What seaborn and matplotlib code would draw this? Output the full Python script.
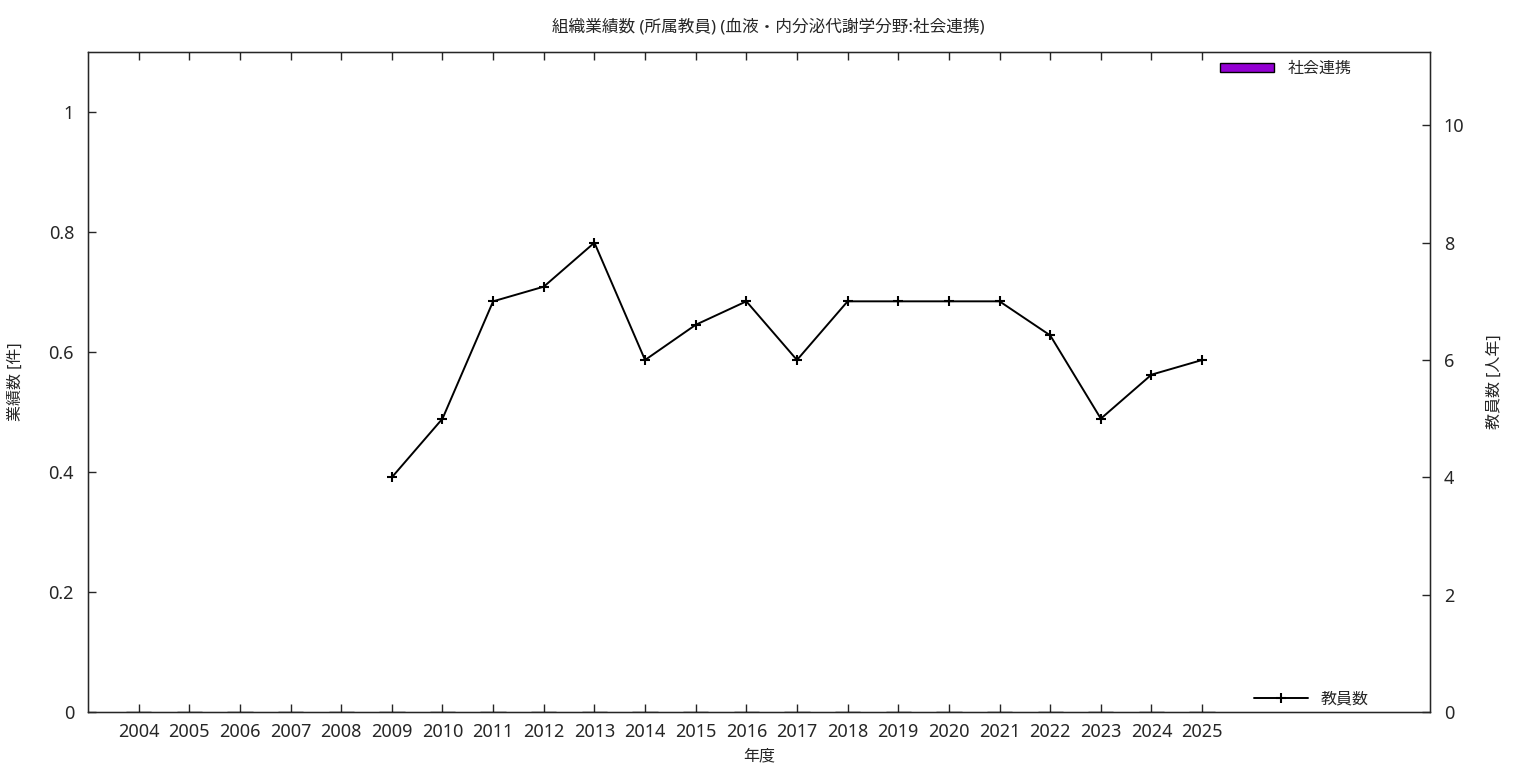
import numpy as np
import pandas as pd
import seaborn as sns
import matplotlib.pyplot as plt
from matplotlib.ticker import FuncFormatter, MultipleLocator

# --- データ ---
years = [str(y) for y in range(2004, 2026)]
renkei = [0] * len(years)  # 社会連携 (全年度 0 件)

staff_years = [str(y) for y in range(2009, 2026)]
staff = [4, 5, 7, 7.25, 8, 6, 6.6, 7, 6, 7, 7, 7, 7, 6.42, 5, 5.75, 6]

title = '組織業績数 (所属教員) (血液・内分泌代謝学分野:社会連携)'

# --- スタイル ---
sns.set_style('white')
plt.rcParams['font.family'] = ['Noto Sans', 'Noto Sans CJK JP', 'DejaVu Sans']
plt.rcParams['xtick.direction'] = 'in'
plt.rcParams['ytick.direction'] = 'in'

fig = plt.figure(figsize=(15.36, 7.68), dpi=100)
ax = fig.add_axes([88 / 1536, 1 - 712 / 768, 1342 / 1536, 660 / 768])

bar_df = pd.DataFrame({'year': years, 'count': renkei})
sns.barplot(data=bar_df, x='year', y='count', ax=ax, color='#9400d3', saturation=1,
            edgecolor='black', linewidth=1, width=0.5, label='社会連携')

ax.set_xlim(-1, 25.5)
ax.set_ylim(0, 1.1)
ax.yaxis.set_major_locator(MultipleLocator(0.2))
ax.yaxis.set_major_formatter(FuncFormatter(lambda v, p: f'{v:g}'))
ax.tick_params(axis='x', top=True, bottom=True, length=6, width=1, labelsize=13, pad=8)
ax.tick_params(axis='y', left=True, right=False, length=6, width=1, labelsize=13, pad=10)
ax.set_xlabel('年度', fontsize=11.5, labelpad=5)
ax.set_ylabel('業績数 [件]', fontsize=11.5, labelpad=18)
for s in ax.spines.values():
    s.set_color('black')
    s.set_linewidth(1)

# --- 教員数 (右軸) ---
ax2 = ax.twinx()
line_df = pd.DataFrame({'pos': [years.index(y) for y in staff_years], 'staff': staff})
sns.lineplot(data=line_df, x='pos', y='staff', ax=ax2, color='black', linewidth=1.4,
             marker='+', markersize=7, markeredgewidth=1.5, markeredgecolor='black',
             label='教員数')
ax2.set_ylim(0, 11.25)
ax2.yaxis.set_major_locator(MultipleLocator(2))
ax2.tick_params(axis='y', right=True, length=6, width=1, labelsize=13, pad=10)
ax2.set_ylabel('教員数 [人年]', fontsize=11.5, labelpad=16)
ax2.set_xlim(-1, 25.5)
ax.set_xticks(range(len(years)))
ax.set_xticklabels(years)

ax.legend(loc='upper right', bbox_to_anchor=(0.952, 1.008), frameon=False,
          fontsize=11.5, handlelength=3.4, handleheight=0.55)
ax2.legend(loc='lower right', bbox_to_anchor=(0.965, -0.015), frameon=False,
           fontsize=11.5, handlelength=3.4)

fig.suptitle(title, fontsize=12, y=0.975)
fig.savefig('out.png', dpi=100)
